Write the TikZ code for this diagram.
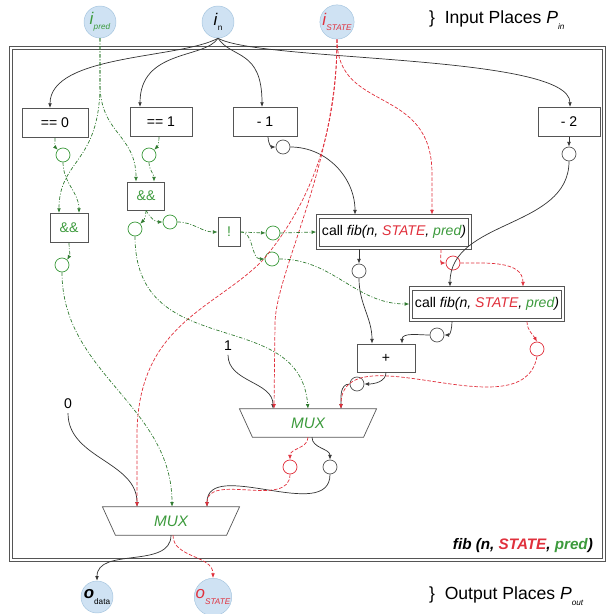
\documentclass[tikz,border=0pt]{standalone}
\usepackage{fontspec}
\setmainfont{Liberation Sans}
\usetikzlibrary{arrows.meta,positioning,shapes.geometric,calc}
\definecolor{plfill}{HTML}{CFE2F3}
\definecolor{pldraw}{HTML}{A4C4DE}
\definecolor{gr}{HTML}{3C9A3C}
\definecolor{rd}{HTML}{E0303C}
\definecolor{bx}{HTML}{555555}
\newcommand{\plsub}[1]{\raisebox{-0.6ex}{\scriptsize #1}}
\tikzset{
  place/.style={circle,draw=pldraw,fill=plfill,minimum size=0.96cm,inner sep=0pt,font=\Large},
  op/.style={draw=bx,line width=0.6pt,minimum height=0.88cm,inner sep=2pt},
  opg/.style={op,text=gr},
  call/.style={draw=bx,line width=0.6pt,minimum width=4.4cm,minimum height=0.84cm,inner sep=2pt},
  tok/.style={circle,draw=bx,line width=0.6pt,minimum size=0.42cm,inner sep=0pt},
  tokg/.style={tok,draw=gr},
  tokr/.style={tok,draw=rd},
  mux/.style={minimum width=4.1cm,minimum height=0.84cm,inner sep=0pt,
    font=\fontsize{13}{15}\selectfont\itshape,text=gr},
  frm/.style={draw=bx,line width=0.6pt},
  fl/.style={-{Latex[length=4pt,width=3.2pt]},line width=0.6pt},
  dat/.style={fl,black!80},
  st/.style={fl,rd,dash pattern=on 3pt off 1.5pt},
  pr/.style={fl,gr!80!black,dash pattern=on 3pt off 1.5pt on 0.8pt off 1.5pt},
}

\begin{document}
\begin{tikzpicture}[x=0.03cm,y=0.03cm,font=\fontsize{12}{14}\selectfont]
  \useasboundingbox (0,0) rectangle (608,614);
  \draw[bx,double,double distance=2.5pt,line width=0.6pt] (11,54) rectangle (604,566);
  % places
  \node[place] (ipred) at (100,592) {\textcolor{gr}{\textit{i}\plsub{\textit{pred}}}};
  \node[place] (in) at (218,592) {\textit{i}\plsub{n}};
  \node[place] (istate) at (337,592) {\textcolor{rd}{\textit{i}\plsub{\textit{STATE}}}};
  \node[font=\fontsize{15}{17}\selectfont,anchor=west] (pin) at (425,594) {\}\ \ Input Places \textit{P}\plsub{\textit{in}}};
  \node[place] (odata) at (97,17) {\textbf{\textit{o}}\plsub{data}};
  \node[place] (ostate) at (213,17) {\textcolor{rd}{\textit{o}\plsub{\textit{STATE}}}};
  \node[font=\fontsize{15}{17}\selectfont,anchor=west] (pout) at (425,18) {\}\ \ Output Places \textit{P}\plsub{\textit{out}}};
  % operations
  \node[op,minimum width=1.98cm] (eq0) at (55,491) {== 0};
  \node[op,minimum width=1.86cm] (eq1) at (161,492) {== 1};
  \node[op,minimum width=1.92cm] (m1) at (265,492) {- 1};
  \node[op,minimum width=1.86cm] (m2) at (569,492) {- 2};
  \node[opg,minimum width=1.1cm,minimum height=0.84cm] (andA) at (146,418) {\&\&};
  \node[opg,minimum width=1.14cm] (andB) at (69,386) {\&\&};
  \node[opg,minimum width=0.66cm] (notb) at (229,382) {!};
  \node[call] (call1) at (394,382) {call \textit{fib(n, \textcolor{rd}{STATE}, \textcolor{gr}{pred})}};
  \node[call] (call2) at (487,310) {call \textit{fib(n, \textcolor{rd}{STATE}, \textcolor{gr}{pred})}};
  \foreach \c in {call1,call2}
    \draw[frm] ($(\c.north west)+(-3,3)$) rectangle ($(\c.south east)+(3,-3)$);
  \node[op,minimum width=1.74cm,minimum height=0.84cm] (plus) at (386,256) {+};
  \node[mux] (mux1) at (308,191) {MUX};
  \node[mux] (mux2) at (171,93) {MUX};
  \foreach \m in {mux1,mux2}
    \draw[frm] (\m.north west) -- (\m.north east) -- ($(\m.south east)+(-13,0)$)
      -- ($(\m.south west)+(13,0)$) -- cycle;
  \node (one) at (228,268) {1};
  \node (zero) at (68,210) {0};
  \node[anchor=east,font=\fontsize{13}{15}\selectfont] (title) at (597,68) {\textbf{\textit{fib (n, \textcolor{rd}{STATE}, \textcolor{gr}{pred})}}};
  % tokens
  \node[tokg] (teq0) at (63,459) {};
  \node[tokg] (teq1) at (149,459) {};
  \node[tok] (tm1) at (283,467) {};
  \node[tok] (tm2) at (569,460) {};
  \node[tokg] (tandB) at (62,349) {};
  \node[tokg] (tandA1) at (135,385) {};
  \node[tokg] (tandA2) at (170,392) {};
  \node[tokg] (tnot1) at (273,381) {};
  \node[tokg] (tnot2) at (272,355) {};
  \node[tok] (tc1) at (359,343) {};
  \node[tokr] (tc1s) at (453,351) {};
  \node[tok] (tc2) at (437,279) {};
  \node[tokr] (tc2s) at (537,265) {};
  \node[tok] (tplus) at (357,230) {};
  \node[tokr] (tmux1s) at (290,147) {};
  \node[tok] (tmux1) at (330,147) {};
  % data
  \draw[dat] (in.south) .. controls (180,555) and (50,560) .. ($(eq0.north)+(-5,0)$);
  \draw[dat] (in.south) .. controls (205,555) and (140,565) .. ($(eq1.north)+(-21,0)$);
  \draw[dat] (in.south) .. controls (232,555) and (262,565) .. ($(m1.north)+(-3,0)$);
  \draw[dat] (in.south) .. controls (260,552) and (570,560) .. ($(m2.north)+(1,0)$);
  \draw[dat] ($(m1.south)+(3,0)$) to[out=-90,in=180] (tm1.west);
  \draw[dat] (tm1.east) to[out=0,in=90] ($(call1.north)+(-39,3)$);
  \draw[dat] (m2.south) -- (tm2.north);
  \draw[dat] (tm2.south) to[out=-90,in=90] ($(call2.north)+(-37,3)$);
  \draw[dat] ($(call1.south)+(-35,-3)$) -- (tc1.north);
  \draw[dat] (tc1.south) to[out=-90,in=90] ($(plus.north)+(-14,0)$);
  \draw[dat] ($(call2.south)+(-35,-3)$) to[out=-90,in=0] (tc2.east);
  \draw[dat] (tc2.west) to[out=180,in=90] ($(plus.north)+(16,0)$);
  \draw[dat] (plus.south) to[out=-90,in=0] (tplus.east);
  \draw[dat] (tplus.west) to[out=180,in=90] ($(mux1.north)+(33,0)$);
  \draw[dat] (one.south) to[out=-90,in=90] ($(mux1.north)+(-35,0)$);
  \draw[dat] ($(mux1.south)+(4,0)$) to[out=-90,in=90] (tmux1.north);
  \draw[dat] (tmux1.south) to[out=-90,in=90] ($(mux2.north)+(36,0)$);
  \draw[dat] (zero.south) to[out=-90,in=90] ($(mux2.north)+(-34,0)$);
  \draw[dat] (mux2.south) to[out=-90,in=90] (odata.north);
  % state
  \draw[st] (istate.south) .. controls (337,500) and (432,530) .. (432,440) -- ($(call1.north)+(38,3)$);
  \draw[st] (istate.south) .. controls (337,450) and (275,340) .. (275,290) -- ($(mux1.north)+(-34,0)$);
  \draw[st] (istate.south) .. controls (337,480) and (310,410) .. (263,354)
    .. controls (215,305) and (138,290) .. (137,180) -- ($(mux2.north)+(-34,0)$);
  \draw[st] ($(call1.south)+(47,-3)$) to[out=-90,in=180] (tc1s.west);
  \draw[st] (tc1s.east) to[out=0,in=90] ($(call2.north)+(36,3)$);
  \draw[st] ($(call2.south)+(40,-3)$) to[out=-90,in=120] (tc2s.north);
  \draw[st] (tc2s.south) to[out=-100,in=90] ($(mux1.north)+(33,0)$);
  \draw[st] (mux1.south) to[out=-90,in=90] (tmux1s.north);
  \draw[st] (tmux1s.south) to[out=-90,in=90] ($(mux2.north)+(36,0)$);
  \draw[st] ($(mux2.south)+(2,0)$) to[out=-90,in=90] (ostate.north);
  % predicate
  \draw[pr] (ipred.south) -- (100,530) .. controls (100,480) and (136,480) .. ($(andA.north)+(-10,0)$);
  \draw[pr] (ipred.south) -- (100,530) .. controls (100,450) and (59,455) .. ($(andB.north)+(-10,0)$);
  \draw[pr] (eq0.south) to[out=-90,in=135] (teq0.north west);
  \draw[pr] (teq0.south) to[out=-90,in=90] ($(andB.north)+(10,0)$);
  \draw[pr] ($(eq1.south)+(-2,0)$) to[out=-90,in=45] (teq1.north east);
  \draw[pr] (teq1.south) to[out=-90,in=90] ($(andA.north)+(8,0)$);
  \draw[pr] (andB.south) to[out=-90,in=60] (tandB.north east);
  \draw[pr] (andA.south) to[out=-90,in=45] (tandA1.north east);
  \draw[pr] (andA.south) to[out=-60,in=180] (tandA2.west);
  \draw[pr] (tandA2.east) to[out=0,in=180] (notb.west);
  \draw[pr] (notb.east) -- (tnot1.west);
  \draw[pr] (notb.east) to[out=0,in=180] (tnot2.west);
  \draw[pr] (tnot1.east) -- ($(call1.west)+(-3,0)$);
  \draw[pr] (tnot2.east) to[out=0,in=180] ($(call2.west)+(-3,0)$);
  \draw[pr] (tandA1.south) .. controls (135,250) and (300,310) .. (mux1.north);
  \draw[pr] (tandB.south) to[out=-90,in=90] ($(mux2.north)+(1,0)$);
\end{tikzpicture}
\end{document}
